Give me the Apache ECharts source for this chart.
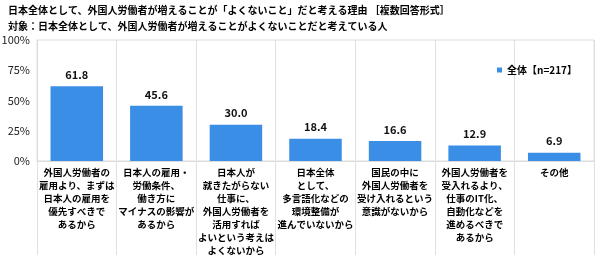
<!DOCTYPE html>
<html><head><meta charset="utf-8">
<script src="https://cdn.jsdelivr.net/npm/echarts@6/dist/echarts.min.js"></script>
<style>html,body{margin:0;padding:0;background:#fff}#c{width:600px;height:255px}</style>
</head><body><div id="c"></div>
<script>
const titleLine1 = '日本全体として、外国人労働者が増えることが「よくないこと」だと考える理由 ［複数回答形式］';
const titleLine2 = '対象：日本全体として、外国人労働者が増えることがよくないことだと考えている人';
const categories = [
  '外国人労働者の\n雇用より、まずは\n日本人の雇用を\n優先すべきで\nあるから',
  '日本人の雇用・\n労働条件、\n働き方に\nマイナスの影響が\nあるから',
  '日本人が\n就きたがらない\n仕事に、\n外国人労働者を\n活用すれば\nよいという考えは\nよくないから',
  '日本全体\nとして、\n多言語化などの\n環境整備が\n進んでいないから',
  '国民の中に\n外国人労働者を\n受け入れるという\n意識がないから',
  '外国人労働者を\n受入れるより、\n仕事のIT化、\n自動化などを\n進めるべきで\nあるから',
  'その他'
];
const seriesName = '全体【n=217】';
const values = [61.8, 45.6, 30.0, 18.4, 16.6, 12.9, 6.9];
const yTicks = [0, 25, 50, 75, 100];

const font = '"Noto Sans CJK JP", "Noto Sans", sans-serif';
const chart = echarts.init(document.getElementById('c'), null, {renderer: 'canvas'});
chart.setOption({
  animation: false,
  textStyle: {fontFamily: font},
  title: [
    {text: titleLine1, left: 3, top: 0, textStyle: {fontSize: 10, fontWeight: 'bold', color: '#000', fontFamily: font}},
    {text: titleLine2, left: 3, top: 16, textStyle: {fontSize: 10, fontWeight: 'bold', color: '#000', fontFamily: font}}
  ],
  legend: {
    data: [seriesName], left: 492, top: 60, itemWidth: 5, itemHeight: 5, itemGap: 3,
    icon: 'rect',
    textStyle: {fontSize: 10, fontWeight: 'bold', color: '#000', fontFamily: font}
  },
  grid: {left: 37, right: 6, top: 40, bottom: 94, outerBoundsMode: 'none', containLabel: false,
    show: true, borderColor: '#dcdcdc', borderWidth: 1},
  xAxis: {
    type: 'category', data: categories,
    axisLine: {show: true, lineStyle: {color: '#dcdcdc'}},
    axisTick: {show: true, length: 94, lineStyle: {color: '#e0e0e0'}},
    splitLine: {show: true, lineStyle: {color: '#e0e0e0'}},
    axisLabel: {interval: 0, fontSize: 9.5, lineHeight: 13, fontWeight: 'bold', color: '#000', margin: 5, verticalAlign: 'top'}
  },
  yAxis: {
    type: 'value', min: 0, max: 100, interval: 25,
    axisLine: {show: true, lineStyle: {color: '#dcdcdc'}},
    axisTick: {show: false},
    splitLine: {show: false},
    axisLabel: {fontSize: 11, color: '#222', margin: 7, formatter: v => yTicks.includes(v) ? v + '%' : ''}
  },
  series: [{
    name: seriesName, type: 'bar', data: values, barWidth: '66%',
    itemStyle: {color: '#3a8ee6'},
    label: {show: true, position: 'top', distance: 6, fontSize: 11, fontWeight: 'bold', color: '#111',
      formatter: p => p.value.toFixed(1)}
  }]
});
</script></body></html>
